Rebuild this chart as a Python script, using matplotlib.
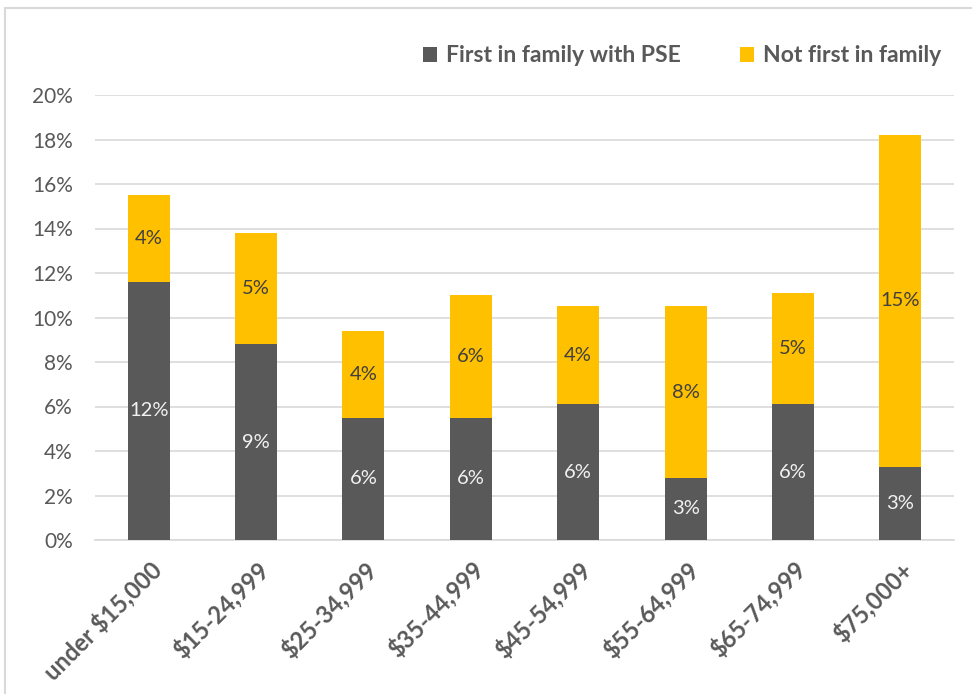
import matplotlib.pyplot as plt
from matplotlib.patches import Rectangle

plt.rcParams['font.family'] = ['Lato', 'DejaVu Sans']

categories = ['under $15,000', '$15-24,999', '$25-34,999', '$35-44,999',
              '$45-54,999', '$55-64,999', '$65-74,999', '$75,000+']
first_in_family = [11.6, 8.8, 5.5, 5.5, 6.1, 2.8, 6.1, 3.3]
not_first = [3.9, 5.0, 3.9, 5.5, 4.4, 7.7, 5.0, 14.9]
first_labels = ['12%', '9%', '6%', '6%', '6%', '3%', '6%', '3%']
not_first_labels = ['4%', '5%', '4%', '6%', '4%', '8%', '5%', '15%']
yticks = [0, 2, 4, 6, 8, 10, 12, 14, 16, 18, 20]

DARK = '#595959'
GOLD = '#FFC000'
TEXT = '#595959'

fig = plt.figure(figsize=(9.72, 6.94), dpi=100)
ax = fig.add_axes([95 / 972, 1 - 540 / 694, (954 - 95) / 972, (540 - 95) / 694])

x = list(range(len(categories)))
width = 0.39
b1 = ax.bar(x, first_in_family, width, color=DARK, label='First in family with PSE', zorder=3)
b2 = ax.bar(x, not_first, width, bottom=first_in_family, color=GOLD,
            label='Not first in family', zorder=3)

for i in x:
    ax.text(i, first_in_family[i] / 2, first_labels[i], ha='center', va='center',
            color='#F2F2F2', fontsize=14.5, zorder=4)
    ax.text(i, first_in_family[i] + not_first[i] / 2, not_first_labels[i],
            ha='center', va='center', color='#404040', fontsize=14.5, zorder=4)

ax.set_xlim(-0.5, len(categories) - 0.5)
ax.set_ylim(0, 20)
ax.set_yticks(yticks)
ax.set_yticklabels([f'{t}%' for t in yticks], fontsize=15, color=TEXT)
ax.set_xticks(x)
ax.set_xticklabels(categories, rotation=45, ha='right', rotation_mode='anchor',
                   fontsize=17, fontweight='bold', color=TEXT)
ax.tick_params(axis='both', length=0)
ax.tick_params(axis='y', pad=16)
ax.tick_params(axis='x', pad=12)
ax.grid(axis='y', color='#D9D9D9', linewidth=1.2, zorder=0)
for s in ['top', 'right', 'left']:
    ax.spines[s].set_visible(False)
ax.spines['bottom'].set_color('#D9D9D9')
ax.spines['bottom'].set_linewidth(1.2)

leg = fig.legend(handles=[b1, b2], loc='center right', bbox_to_anchor=(962 / 972, 1 - 56 / 694),
                 ncol=2, frameon=False, handlelength=0.6, handleheight=0.6,
                 handletextpad=0.4, columnspacing=2.6,
                 prop={'size': 16.5, 'weight': 'bold'})
for t in leg.get_texts():
    t.set_color(TEXT)

# chart border, only top and left edges fall inside the picture
fig.patches.append(Rectangle((5 / 972, -0.05), 1.0, 1 - 8 / 694 + 0.05,
                             transform=fig.transFigure, fill=False,
                             edgecolor='#D9D9D9', linewidth=1.5))

fig.savefig('out.png', dpi=100, facecolor='white')
